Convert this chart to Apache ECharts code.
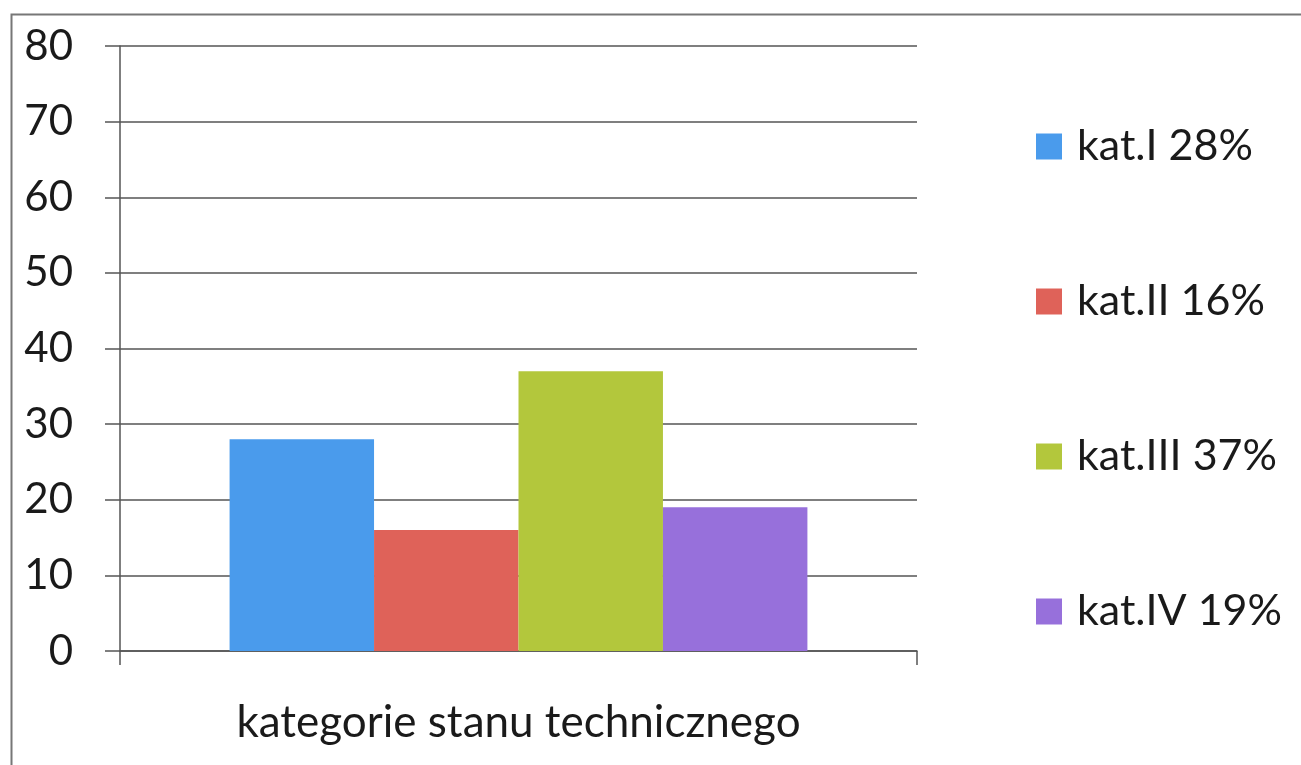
<!DOCTYPE html>
<html><head><meta charset="utf-8">
<script src="https://cdn.jsdelivr.net/npm/echarts@6/dist/echarts.min.js"></script>
<style>html,body{margin:0;padding:0;background:#fff}#c{width:1301px;height:765px}</style>
</head><body><div id="c"></div>
<script>
const categories = [''];
const seriesNames = ['kat.I 28%', 'kat.II 16%', 'kat.III 37%', 'kat.IV 19%'];
const seriesValues = [28, 16, 37, 19];
const seriesColors = ['#4a9bec', '#df6259', '#b3c73c', '#9770db'];
const yTicks = { min: 0, max: 80, interval: 10 };
const axisTitle = 'kategorie stanu technicznego';

const FONT = 'Lato';
const chart = echarts.init(document.getElementById('c'), null, { renderer: 'canvas' });
chart.setOption({
  animation: false,
  backgroundColor: '#fff',
  textStyle: { fontFamily: FONT },
  graphic: [{
    type: 'rect', left: 9, top: 12, silent: true,
    shape: { width: 1310, height: 770 },
    style: { fill: 'none', stroke: '#777', lineWidth: 2 }
  }],
  grid: { left: 120, right: 384, top: 46, bottom: 114, containLabel: false },
  legend: {
    orient: 'vertical', left: 1036, top: 125, padding: 0,
    itemWidth: 26, itemHeight: 26, itemGap: 112,
    icon: 'rect',
    textStyle: { fontFamily: FONT, fontSize: 43, color: '#1a1a1a', padding: [0, 0, 0, 10] },
    data: seriesNames
  },
  xAxis: {
    type: 'category', data: categories,
    axisLine: { show: true, lineStyle: { color: '#555', width: 1.5 } },
    axisTick: { show: true, length: 14, lineStyle: { color: '#555', width: 1.5 } },
    axisLabel: { show: false },
    name: axisTitle, nameLocation: 'middle', nameGap: 50,
    nameTextStyle: { fontFamily: FONT, fontSize: 44, color: '#1a1a1a' }
  },
  yAxis: {
    type: 'value', min: yTicks.min, max: yTicks.max, interval: yTicks.interval,
    axisLine: { show: true, lineStyle: { color: '#555', width: 1.5 } },
    axisTick: { show: true, length: 15, lineStyle: { color: '#555', width: 1.5 } },
    axisLabel: { margin: 47, fontFamily: FONT, fontSize: 42, color: '#1a1a1a' },
    splitLine: { show: true, lineStyle: { color: '#555', width: 1.5 } }
  },
  series: seriesNames.map((n, i) => ({
    name: n, type: 'bar', data: [seriesValues[i]],
    itemStyle: { color: seriesColors[i] },
    barGap: '0%', barCategoryGap: '27.5%'
  }))
});
</script></body></html>
